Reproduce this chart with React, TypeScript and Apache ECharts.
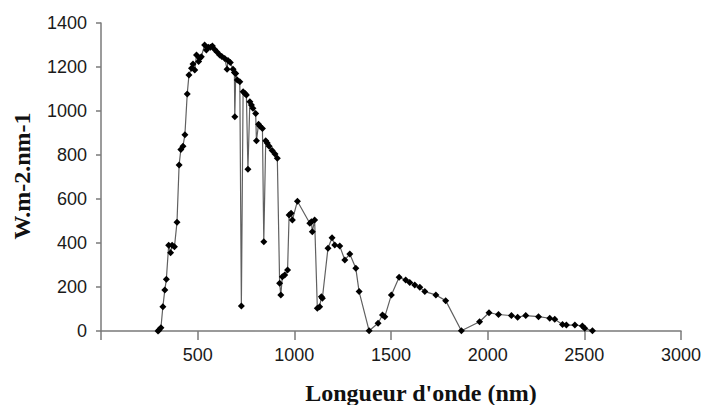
import React, { useEffect, useRef } from "react";
import * as echarts from "echarts";

const wavelengths: number[] = [
  295, 300, 310, 320, 330, 338, 350, 360, 368, 380, 393, 404, 413, 424, 434, 446, 455, 468, 476, 485,
  494, 505, 511, 519, 536, 545, 555, 566, 576, 588, 600, 614, 625, 640, 652, 657, 669, 683, 690, 692,
  697, 705, 718, 726, 735, 745, 752, 760, 770, 778, 786, 800, 804, 815, 821, 835, 842, 852, 860, 870,
  885, 900, 912, 924, 930, 938, 950, 965, 973, 983, 990, 1016, 1080, 1088, 1093, 1105, 1119, 1131, 1140, 1145,
  1174, 1195, 1209, 1235, 1261, 1287, 1318, 1335, 1387, 1433, 1456, 1468, 1502, 1542, 1576, 1597, 1623, 1649, 1675, 1732,
  1783, 1864, 1958, 2007, 2056, 2123, 2155, 2197, 2263, 2321, 2347, 2387, 2407, 2451, 2490, 2502, 2542,
];

const irradiance: number[] = [
  0, 5, 15, 110, 186, 235, 390, 356, 390, 383, 494, 755, 825, 840, 892, 1077, 1164, 1194, 1214, 1186,
  1255, 1225, 1240, 1247, 1300, 1277, 1290, 1290, 1295, 1280, 1268, 1255, 1248, 1239, 1190, 1229, 1220, 1190, 1175, 974,
  1171, 1141, 1133, 114, 1088, 1080, 1073, 735, 1042, 1027, 1012, 989, 865, 940, 932, 921, 406, 865, 855, 840,
  820, 805, 785, 217, 164, 247, 255, 277, 527, 535, 505, 590, 490, 497, 451, 505, 103, 110, 156, 149,
  376, 424, 391, 386, 323, 350, 285, 179, 1, 35, 73, 65, 164, 244, 232, 220, 209, 199, 179, 164,
  138, 1, 42, 83, 75, 70, 63, 70, 65, 58, 53, 30, 27, 27, 23, 12, 1,
];

const xTitle = "Longueur d'onde (nm)";
const yTitle = "W.m-2.nm-1";

export default function App() {
  const ref = useRef<HTMLDivElement>(null);
  useEffect(() => {
    if (!ref.current) return;
    const chart = echarts.init(ref.current, null, { renderer: "svg" });
    const data = wavelengths.map((w, i) => [w, irradiance[i]]);
    chart.setOption({
      animation: false,
      backgroundColor: "#ffffff",
      grid: { left: 101, right: 26, top: 23, bottom: 74, containLabel: false },
      xAxis: {
        type: "value",
        min: 0,
        max: 3000,
        interval: 500,
        axisLine: { show: true, onZero: false, lineStyle: { color: "#7a7a7a", width: 1.5 } },
        axisTick: { show: true, length: 9, lineStyle: { color: "#7a7a7a", width: 1.5 } },
        axisLabel: {
          margin: 15,
          fontFamily: "Liberation Sans, Arial, sans-serif",
          fontSize: 18,
          color: "#1a1a1a",
          formatter: (v: number) => (v === 0 ? "" : String(v)),
        },
        splitLine: { show: false },
      },
      yAxis: {
        type: "value",
        min: 0,
        max: 1400,
        interval: 200,
        axisLine: { show: true, lineStyle: { color: "#7a7a7a", width: 1.5 } },
        axisTick: { show: true, length: 5, lineStyle: { color: "#7a7a7a", width: 1.5 } },
        axisLabel: {
          margin: 14,
          fontFamily: "Liberation Sans, Arial, sans-serif",
          fontSize: 18,
          color: "#1a1a1a",
          formatter: (v: number) => String(v),
        },
        splitLine: { show: false },
      },
      graphic: [
        {
          type: "text",
          x: 421,
          y: 393,
          style: {
            text: xTitle,
            font: "bold 24px 'Liberation Serif', 'Times New Roman', serif",
            fill: "#111111",
            align: "center",
            verticalAlign: "middle",
          },
        },
        {
          type: "text",
          x: 22,
          y: 176,
          rotation: Math.PI / 2,
          style: {
            text: yTitle,
            font: "bold 24px 'Liberation Serif', 'Times New Roman', serif",
            fill: "#111111",
            align: "center",
            verticalAlign: "middle",
          },
        },
      ],
      series: [
        {
          type: "line",
          data,
          symbol: "diamond",
          symbolSize: 7,
          showSymbol: true,
          itemStyle: { color: "#000000" },
          lineStyle: { color: "#606060", width: 1.2 },
        },
      ],
    });
    return () => chart.dispose();
  }, []);
  return (
    <div
      ref={ref}
      style={{ position: "fixed", left: 0, top: 0, width: 707, height: 405, background: "#fff" }}
    />
  );
}
